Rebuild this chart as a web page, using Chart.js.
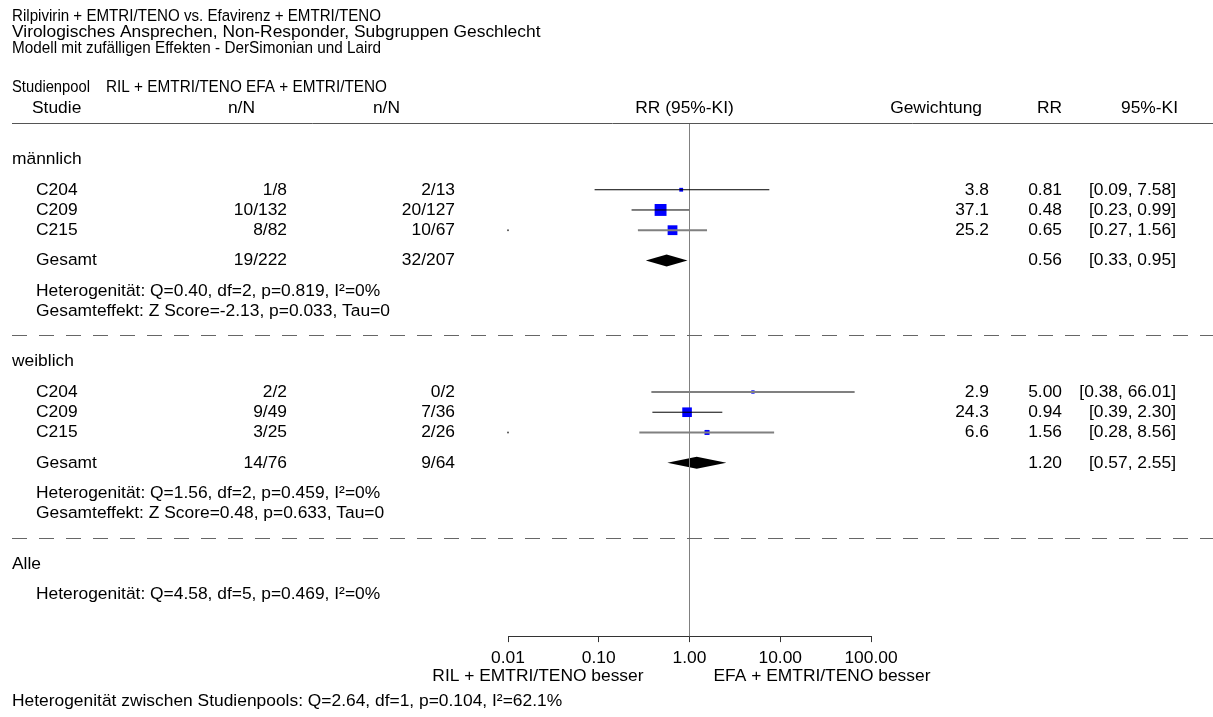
<!DOCTYPE html>
<html><head><meta charset="utf-8">
<script src="https://cdn.jsdelivr.net/npm/chart.js@4.4.1/dist/chart.umd.min.js"></script>
<style>html,body{margin:0;padding:0;background:#fff;overflow:hidden}#wrap{width:1213px;height:717px;position:relative}</style>
</head><body><div id="wrap"><canvas id="c" width="1213" height="717"></canvas></div>
<script>
// ---------------- DATA ----------------
const titleLines = [
  'Rilpivirin + EMTRI/TENO vs. Efavirenz + EMTRI/TENO',
  'Virologisches Ansprechen, Non-Responder, Subgruppen Geschlecht',
  'Modell mit zufälligen Effekten - DerSimonian und Laird'
];
const headerPool = 'Studienpool';
const headerArms = 'RIL + EMTRI/TENO EFA + EMTRI/TENO';
const headerStudy = 'Studie';
const headerN = 'n/N';
const headerPlot = 'RR (95%-KI)';
const headerWeight = 'Gewichtung';
const headerRR = 'RR';
const headerCI = '95%-KI';
const groups = ['männlich', 'weiblich'];
const studies = ['C204', 'C209', 'C215'];
const rilN = [['1/8', '10/132', '8/82'], ['2/2', '9/49', '3/25']];
const efaN = [['2/13', '20/127', '10/67'], ['0/2', '7/36', '2/26']];
const weights = [[3.8, 37.1, 25.2], [2.9, 24.3, 6.6]];
const rr = [[0.81, 0.48, 0.65], [5.00, 0.94, 1.56]];
const ciLow = [[0.09, 0.23, 0.27], [0.38, 0.39, 0.28]];
const ciHigh = [[7.58, 0.99, 1.56], [66.01, 2.30, 8.56]];
const totalLabel = 'Gesamt';
const totalRil = ['19/222', '14/76'];
const totalEfa = ['32/207', '9/64'];
const totalRR = [0.56, 1.20];
const totalLow = [0.33, 0.57];
const totalHigh = [0.95, 2.55];
const hetText = ['Heterogenität: Q=0.40, df=2, p=0.819, I²=0%', 'Heterogenität: Q=1.56, df=2, p=0.459, I²=0%'];
const effectText = ['Gesamteffekt: Z Score=-2.13, p=0.033, Tau=0', 'Gesamteffekt: Z Score=0.48, p=0.633, Tau=0'];
const allLabel = 'Alle';
const allHet = 'Heterogenität: Q=4.58, df=5, p=0.469, I²=0%';
const betweenHet = 'Heterogenität zwischen Studienpools: Q=2.64, df=1, p=0.104, I²=62.1%';
const axisTicks = [0.01, 0.1, 1, 10, 100];
const axisTickLabels = ['0.01', '0.10', '1.00', '10.00', '100.00'];
const favourLeft = 'RIL + EMTRI/TENO besser';
const favourRight = 'EFA + EMTRI/TENO besser';

// ---------------- LAYOUT / STYLE ----------------
const FONT = "'Liberation Sans', Arial, sans-serif";
const FS = 17.4;
const GROUP_STEP = 10;
const ciGray = [[false, false, true], [true, false, true]];
const rowOf = (g, i) => g * GROUP_STEP + i;
const Y_MIN = -3.3, Y_MAX = 22.07;

const boxPts = [], boxR = [];
groups.forEach((_, g) => studies.forEach((_, i) => {
  boxPts.push({ x: rr[g][i], y: rowOf(g, i) });
  boxR.push(1.38 * Math.sqrt(weights[g][i]));
}));

const ciSets = [];
groups.forEach((_, g) => studies.forEach((_, i) => {
  ciSets.push({
    type: 'line', data: [{ x: ciLow[g][i], y: rowOf(g, i) }, { x: ciHigh[g][i], y: rowOf(g, i) }],
    borderColor: ciGray[g][i] ? '#808080' : '#000000', borderWidth: ciGray[g][i] ? 2 : 1,
    pointRadius: 0, showLine: true, order: 1, clip: false
  });
}));

const datasets = [
  { type: 'line', data: [{ x: 1, y: Y_MIN }, { x: 1, y: Y_MAX }], borderColor: '#808080', borderWidth: 1,
    pointRadius: 0, showLine: true, order: 5, clip: false },
  { type: 'scatter', data: boxPts, pointStyle: 'rect', pointRadius: boxR, pointHoverRadius: boxR,
    backgroundColor: '#0000ff', borderWidth: 0, order: 3, clip: false },
  { type: 'scatter', data: [{ x: axisTicks[0], y: rowOf(0, 2) }, { x: axisTicks[0], y: rowOf(1, 2) }],
    pointRadius: 1, backgroundColor: '#555', borderWidth: 0, order: 4, clip: false },
  ...ciSets
];

const diamondPlugin = {
  id: 'diamonds',
  beforeDatasetsDraw(chart) {
    const { ctx, scales: { x, y } } = chart;
    ctx.save();
    ctx.fillStyle = '#000';
    groups.forEach((_, g) => {
      const yy = y.getPixelForValue(rowOf(g, 3.5));
      const xl = x.getPixelForValue(totalLow[g]), xc = x.getPixelForValue(totalRR[g]), xh = x.getPixelForValue(totalHigh[g]);
      ctx.beginPath();
      ctx.moveTo(xl, yy); ctx.lineTo(xc, yy - 6); ctx.lineTo(xh, yy); ctx.lineTo(xc, yy + 6); ctx.closePath();
      ctx.fill();
    });
    ctx.restore();
  }
};

const textPlugin = {
  id: 'texts',
  afterDraw(chart) {
    const { ctx, scales: { x, y }, chartArea } = chart;
    ctx.save();
    ctx.fillStyle = '#000';
    ctx.textBaseline = 'middle';
    ctx.font = FS + 'px ' + FONT;
    const T = (s, px, py, al, mw) => { ctx.textAlign = al || 'left'; mw ? ctx.fillText(s, px, py, mw) : ctx.fillText(s, px, py); };
    T(titleLines[0], 12, 16, 'left', 369);
    T(titleLines[1], 12, 32);
    T(titleLines[2], 12, 48, 'left', 369);
    T(headerPool, 12, 87, 'left', 78); T(headerArms, 106, 87, 'left', 281);
    T(headerStudy, 32, 108); T(headerN, 255, 108, 'right'); T(headerN, 400, 108, 'right');
    T(headerPlot, x.getPixelForValue(1) - 5, 108, 'center');
    T(headerWeight, 982, 108, 'right'); T(headerRR, 1062, 108, 'right'); T(headerCI, 1178, 108, 'right');
    ctx.strokeStyle = '#555'; ctx.lineWidth = 1;
    ctx.beginPath(); ctx.moveTo(12, Math.round(chartArea.top) + 0.5); ctx.lineTo(1213, Math.round(chartArea.top) + 0.5); ctx.stroke();
    groups.forEach((gname, g) => {
      T(gname, 12, y.getPixelForValue(rowOf(g, -1.5)));
      studies.forEach((s, i) => {
        const py = y.getPixelForValue(rowOf(g, i));
        T(s, 36, py); T(rilN[g][i], 287, py, 'right'); T(efaN[g][i], 455, py, 'right');
        T(weights[g][i].toFixed(1), 989, py, 'right'); T(rr[g][i].toFixed(2), 1062, py, 'right');
        T('[' + ciLow[g][i].toFixed(2) + ', ' + ciHigh[g][i].toFixed(2) + ']', 1176, py, 'right');
      });
      const pt = y.getPixelForValue(rowOf(g, 3.5));
      T(totalLabel, 36, pt); T(totalRil[g], 287, pt, 'right'); T(totalEfa[g], 455, pt, 'right');
      T(totalRR[g].toFixed(2), 1062, pt, 'right');
      T('[' + totalLow[g].toFixed(2) + ', ' + totalHigh[g].toFixed(2) + ']', 1176, pt, 'right');
      T(hetText[g], 36, y.getPixelForValue(rowOf(g, 5)));
      T(effectText[g], 36, y.getPixelForValue(rowOf(g, 6)));
      const pd = Math.round(y.getPixelForValue(rowOf(g, 7.2))) + 0.5;
      ctx.strokeStyle = '#666'; ctx.setLineDash([15, 12]);
      ctx.beginPath(); ctx.moveTo(12, pd); ctx.lineTo(1213, pd); ctx.stroke();
      ctx.setLineDash([]);
    });
    T(allLabel, 12, y.getPixelForValue(18.5));
    T(allHet, 36, y.getPixelForValue(20));
    const x1 = x.getPixelForValue(1);
    T(favourLeft, x1 - 46, 676, 'right');
    T(favourRight, x1 + 24, 676, 'left');
    T(betweenHet, 12, 701);
    ctx.restore();
  }
};

new Chart(document.getElementById('c'), {
  type: 'scatter',
  data: { datasets },
  options: {
    responsive: false, animation: false, devicePixelRatio: 1,
    layout: { padding: { left: 508, right: 342, top: 123, bottom: 42 } },
    plugins: { legend: { display: false }, tooltip: { enabled: false } },
    scales: {
      x: {
        type: 'logarithmic', min: axisTicks[0], max: axisTicks[axisTicks.length - 1], position: 'bottom',
        afterBuildTicks: s => { s.ticks = axisTicks.map(v => ({ value: v })); },
        ticks: { callback: (v, i) => axisTickLabels[i], color: '#000', font: { family: FONT, size: FS, lineHeight: 1.2 },
          padding: 6, maxRotation: 0, autoSkip: false },
        grid: { display: true, drawOnChartArea: false, drawTicks: true, tickLength: 6, tickColor: '#333' },
        border: { display: true, color: '#333', width: 1 }
      },
      y: { type: 'linear', display: false, min: Y_MIN, max: Y_MAX, reverse: true }
    }
  },
  plugins: [diamondPlugin, textPlugin]
});
</script></body></html>
